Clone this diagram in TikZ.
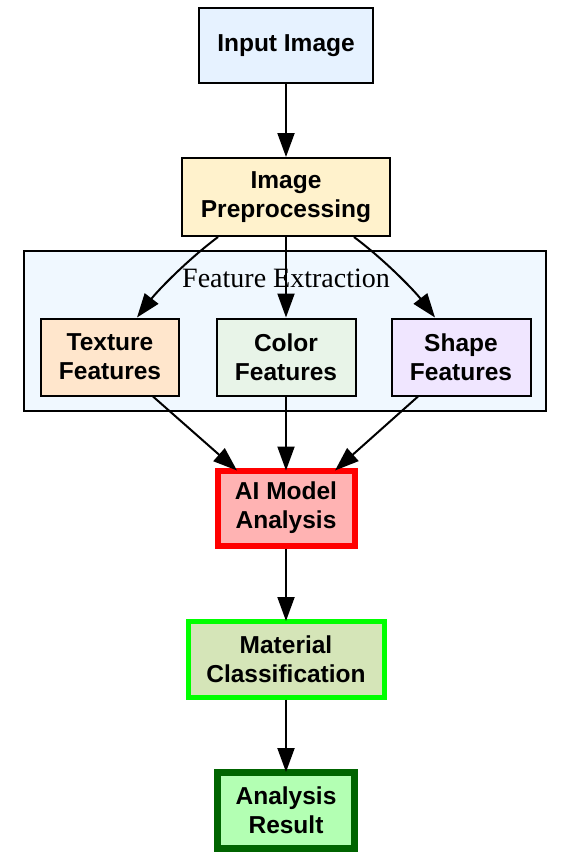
\documentclass[tikz,border=0pt]{standalone}
\usepackage{fontspec}
\setmainfont{Liberation Sans}
\newfontfamily\clusterfont{Liberation Serif}
\usetikzlibrary{arrows.meta}
\definecolor{inputfill}{HTML}{E6F2FF}
\definecolor{prepfill}{HTML}{FFF2CC}
\definecolor{clusterfill}{HTML}{F0F8FF}
\definecolor{texfill}{HTML}{FFE6CC}
\definecolor{colfill}{HTML}{E8F4E8}
\definecolor{shapefill}{HTML}{F0E6FF}
\definecolor{aifill}{HTML}{FFB3B3}
\definecolor{matfill}{HTML}{D5E5B8}
\definecolor{resfill}{HTML}{B3FFB3}
\definecolor{resline}{HTML}{006400}
\tikzset{
	box/.style={draw, line width=2pt, align=center, inner sep=0pt,
		font=\fontsize{24.5}{29}\selectfont\bfseries, minimum height=76pt},
	flow/.style={line width=2pt, -{Triangle[length=24pt,width=17pt]}}
}
\begin{document}
\begin{tikzpicture}[x=1pt,y=-1pt]
		\useasboundingbox (0,0) rectangle (571,856);
		% cluster
		\draw[line width=2pt, fill=clusterfill] (24,251) rectangle (546,411);
		\node[anchor=base, font=\clusterfont\fontsize{28}{32}\selectfont] (fe) at (286,287) {Feature Extraction};
		% nodes
		\node[box, fill=inputfill, minimum width=174pt, minimum height=75pt] (input) at (286,46) {Input Image};
		\node[box, fill=prepfill, minimum width=208pt, minimum height=78pt] (prep) at (286,197) {Image\\Preprocessing};
		\node[box, fill=texfill, minimum width=138pt, minimum height=77pt] (tex) at (110,357) {Texture\\Features};
		\node[box, fill=colfill, minimum width=139pt, minimum height=77pt] (col) at (286,357) {Color\\Features};
		\node[box, fill=shapefill, minimum width=139pt, minimum height=77pt] (shape) at (461,357) {Shape\\Features};
		\node[box, fill=aifill, draw=red, line width=6pt, minimum width=137pt, minimum height=75pt] (ai) at (286,508) {AI Model\\Analysis};
		\node[box, fill=matfill, draw=green, line width=5pt, minimum width=196pt] (mat) at (286,659) {Material\\Classification};
		\node[box, fill=resfill, draw=resline, line width=7pt, minimum width=137pt] (res) at (286,810) {Analysis\\Result};
		% edges
		\draw[flow] (input.south) -- (prep.north);
		\draw[flow] ([xshift=-68]prep.south) .. controls +(-32,24) and +(20,-26) .. ([xshift=27]tex.north);
		\draw[flow] (prep.south) -- (col.north);
		\draw[flow] ([xshift=68]prep.south) .. controls +(32,24) and +(-20,-26) .. ([xshift=-26]shape.north);
		\draw[flow] ([xshift=43]tex.south) -- ([xshift=-49,yshift=-3]ai.north);
		\draw[flow] (col.south) -- ([yshift=-3]ai.north);
		\draw[flow] ([xshift=-43]shape.south) -- ([xshift=49,yshift=-3]ai.north);
		\draw[flow] (ai.south) -- ([yshift=-2.5]mat.north);
		\draw[flow] (mat.south) -- ([yshift=-3.5]res.north);
	\end{tikzpicture}
\end{document}
